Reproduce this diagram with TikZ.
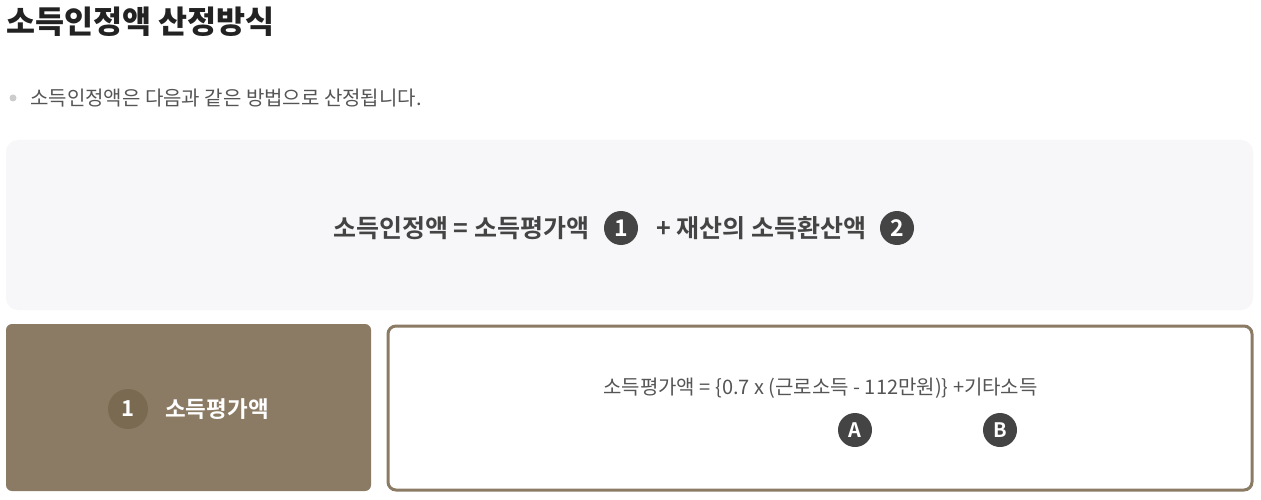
\documentclass[tikz,border=0pt]{standalone}
\usepackage{fontspec}
\setmainfont{Noto Sans CJK KR}
\newfontfamily\krb{Noto Sans CJK KR Bold}
\newfontfamily\krk{Noto Sans CJK KR Black}
\definecolor{titlec}{HTML}{222222}
\definecolor{txt}{HTML}{555555}
\definecolor{dark}{HTML}{444444}
\definecolor{panel}{HTML}{F7F7F9}
\definecolor{brown}{HTML}{8B7B65}
\definecolor{brownd}{HTML}{7A6A52}
\definecolor{bulletc}{HTML}{CCCCCC}
\tikzset{
  numc/.style={circle, fill=dark, text=white, inner sep=0pt, minimum size=34pt, font=\krb\fontsize{23}{23}\selectfont},
  letc/.style={circle, fill=dark, text=white, inner sep=0pt, minimum size=34pt, font=\krb\fontsize{20}{20}\selectfont},
}
\begin{document}
\begin{tikzpicture}[x=1pt,y=-1pt]
\useasboundingbox (0,0) rectangle (1261,500);
\fill[white] (0,0) rectangle (1261,500);
% title
\node[anchor=west, inner sep=0pt, text=titlec, font=\krk\fontsize{31.5}{31.5}\selectfont] (title) at (6,22) {소득인정액 산정방식};
% bullet line
\fill[bulletc] (13,98) circle (3.5);
\node[anchor=west, inner sep=0pt, text=txt, font=\fontsize{20}{20}\selectfont] (sub) at (30,98) {소득인정액은 다음과 같은 방법으로 산정됩니다.};
% panel
\fill[panel, rounded corners=12] (6,140) rectangle (1253,310);
\node[anchor=west, inner sep=0pt, text=dark, font=\krb\fontsize{25}{25}\selectfont] (f1) at (333,228) {소득인정액 = 소득평가액};
\node[numc] (n1) at (621,228) {1};
\node[anchor=west, inner sep=0pt, text=dark, font=\krb\fontsize{25}{25}\selectfont] (f2) at (656,228) {+ 재산의 소득환산액};
\node[numc] (n2) at (897,228) {2};
% brown box
\fill[brown, rounded corners=6] (6,324) rectangle (371,491);
\node[circle, fill=brownd, inner sep=0pt, minimum size=40pt, text=white, font=\krb\fontsize{22}{22}\selectfont] (b1) at (128,409) {1};
\node[anchor=west, inner sep=0pt, text=white, font=\krb\fontsize{22.5}{22.5}\selectfont] (bt) at (165,409) {소득평가액};
% white box
\draw[brown, line width=3, rounded corners=8] (388,326) rectangle (1252,490);
\node[anchor=west, inner sep=0pt, text=txt, font=\fontsize{20}{20}\selectfont] (f3) at (603,388) {소득평가액 = \{0.7 x (근로소득 - 112만원)\} +기타소득};
\node[letc] (la) at (855,430) {A};
\node[letc] (lb) at (1000,430) {B};
\end{tikzpicture}
\end{document}
